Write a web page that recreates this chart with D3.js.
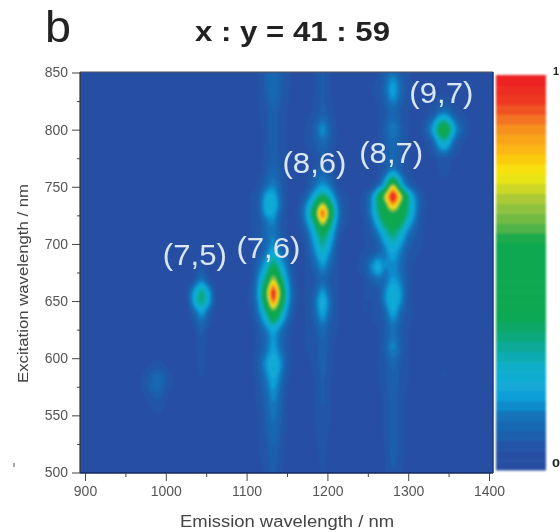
<!DOCTYPE html>
<html><head><meta charset="utf-8">
<script src="https://cdn.jsdelivr.net/npm/d3@7/dist/d3.min.js"></script>
<style>html,body{margin:0;padding:0;background:#fff}svg{display:block}text{font-family:"Liberation Sans",Arial,sans-serif}</style>
</head><body><svg id="c" width="560" height="532"></svg>
<script>
const emission=[894,960,975,990,1005,1025,1035,1044,1053,1063,1085,1105,1115,1125,1133,1141,1150,1160,1172,1184,1194,1204,1214,1226,1245,1255,1263,1271,1281,1291,1301,1315,1330,1344,1358,1375,1405];
const excitation=[855,835,815,800,790,775,765,757,750,742,734,727,720,710,695,680,668,658,650,640,625,610,595,580,565,545,520,494];
const intensity=[
[3,3,3,3,3, 3,3,3,3,3, 4,4,5, 9,13,9,6, 4,4,5,8,5,4,4,4,4,5, 7,11,7,5, 4,4,4,4,4,3],
[3,3,3,3,3, 3,3,3,3,3, 4,4,5, 9,12,9,6, 4,4,5,8,5,4,4,4,5,6, 11,20,11,6, 4,4,4,4,4,3],
[3,3,3,3,3, 3,3,3,3,3, 4,4,5, 7,10,7,5, 4,4,6,9,6,4,4,4,4,5, 7,11,7,5, 4,7,14,7,4,3],
[3,3,3,3,3, 3,3,3,3,3, 4,4,4, 7,9,7,5, 4,5,9,17,9,4,4,4,4,5, 9,15,9,5, 5,18,48,18,5,3],
[3,3,3,3,3, 3,3,3,3,3, 4,4,4, 7,9,7,5, 4,5,8,12,8,4,4,4,4,5, 8,12,8,5, 4,10,29,10,4,3],
[3,3,3,3,3, 3,3,3,3,3, 4,4,4, 7,9,7,5, 4,4,5,8,5,4,4,4,4,5, 8,11,8,5, 4,5,8,5,4,3],
[3,3,3,3,3, 3,3,3,3,3, 4,4,4, 8,11,8,5, 4,4,6,11,6,4,4,4,4,5, 8,15,9,5, 4,4,6,4,4,3],
[3,3,3,3,3, 3,3,3,3,3, 4,4,5, 10,13,9,5, 4,4,10,14,10,4,4,4,4,7, 16,38,17,7, 4,4,5,4,4,3],
[3,3,3,3,3, 3,3,3,3,3, 4,4,6, 13,16,10,5, 4,5,13,20,14,5,4,4,6,14, 28,76,30,12, 5,4,5,4,4,3],
[3,3,3,3,3, 3,3,3,3,3, 4,5,8, 20,21,12,5, 4,8,22,38,23,9,5,6,15,38, 67,100,69,28, 8,4,5,4,4,3],
[3,3,3,3,3, 3,3,3,3,3, 4,5,9, 23,24,13,5, 4,13,36,72,38,12,5,6,17,36, 54,84,56,30, 9,4,5,4,4,3],
[3,3,3,3,3, 3,3,3,3,3, 4,5,8, 20,20,11,5, 5,15,47,92,47,14,5,6,16,33, 46,58,47,28, 8,4,5,4,4,3],
[3,3,3,3,3, 3,3,3,3,3, 4,5,7, 14,16,9,5, 4,13,36,76,38,12,5,5,12,26, 40,46,40,22, 7,4,5,4,4,3],
[3,3,3,3,3, 3,3,3,3,3, 4,5,7, 12,15,9,5, 4,8,24,42,25,8,4,5,8,15, 26,36,26,13, 6,4,5,4,4,3],
[3,3,3,3,3, 3,3,4,3,3, 4,4,7, 13,20,13,7, 4,5,16,28,16,5,4,5,6,9, 15,22,15,8, 5,4,5,4,4,3],
[3,3,3,3,3, 3,3,7,3,3, 4,4,12, 24,42,26,13, 5,5,10,17,10,5,4,7,16,22, 15,17,12,6, 4,4,5,4,4,3],
[3,3,3,3,3, 3,7,15,7,3, 4,5,17, 40,74,44,19, 6,5,7,12,7,5,4,5,9,12, 12,19,14,6, 4,4,5,4,4,3],
[3,3,3,3,3, 4,19,32,19,4, 4,6,20, 60,98,63,24, 7,5,9,18,9,5,4,5,6,7, 15,25,17,6, 4,4,5,4,4,3],
[3,3,3,3,3, 4,20,34,20,4, 4,6,18, 52,91,56,22, 7,5,11,23,11,5,4,5,5,7, 15,25,16,6, 4,4,5,4,4,3],
[3,3,3,3,3, 3,10,19,10,3, 4,5,14, 33,56,36,16, 5,5,10,20,10,5,4,5,5,6, 10,20,11,6, 4,4,5,4,4,3],
[3,3,3,3,3, 3,5,9,5,3, 4,4,8, 15,22,15,8, 4,5,7,12,7,5,4,4,5,5, 8,13,8,5, 4,4,5,4,4,3],
[3,3,3,3,3, 3,4,7,4,3, 4,4,7, 13,19,13,7, 4,5,6,10,6,4,4,4,5,5, 9,16,9,5, 4,4,5,4,4,3],
[3,3,4,6,4, 3,4,6,4,3, 4,4,9, 18,24,18,8, 4,4,6,9,6,4,4,4,4,5, 7,11,7,5, 4,4,5,4,4,3],
[3,3,7,12,6, 3,3,5,3,3, 4,4,7, 14,20,14,6, 4,4,5,8,5,4,4,4,4,5, 7,10,7,5, 4,4,5,4,4,3],
[3,3,5,8,4, 3,3,5,3,3, 4,4,6, 11,16,11,5, 4,4,5,8,5,4,4,4,4,4, 6,9,6,4, 4,4,4,4,4,3],
[3,3,3,4,3, 3,3,4,3,3, 3,4,5, 9,13,9,5, 4,4,5,7,5,4,4,4,4,4, 6,9,6,4, 4,4,4,4,4,3],
[3,3,3,3,3, 3,3,4,3,3, 3,4,5, 7,10,7,4, 4,4,4,6,4,4,4,4,4,4, 5,9,6,4, 4,4,4,4,4,3],
[3,3,3,3,3, 3,3,4,3,3, 3,4,4, 6,8,6,4, 4,4,4,5,4,4,4,4,4,4, 5,7,5,4, 4,4,4,4,4,3]
];
const colorStops=[0,5,10,15,16.5,20,26,30,35,40,58,62,68,72,75,80,87,93,100];
const colorValues=["#2a4ea3","#2351a3","#1c62ae","#0f78bd","#0a8fcd","#12a8dc","#10aec8","#12aaa8","#0ea870","#0ca84f","#0ca84f","#5fb545","#a2c63a","#d7dc20","#f5ea0e","#fdc010","#f58a1f","#ee3c24","#ed1c24"];
const xTicks=[900,1000,1100,1200,1300,1400];
const xMinor=[950,1050,1150,1250,1350];
const yTicks=[500,550,600,650,700,750,800,850];
const yMinor=[525,575,625,675,725,775,825];
const speciesLabels=["(7,5)","(7,6)","(8,6)","(8,7)","(9,7)"];
const labelEmission=[1036,1127,1184,1279,1341];
const labelExcitation=[681.5,688,762,771,823];
const levels=d3.range(0,100,2.5);

const L=80,R=493,T=72,B=473;
const x=d3.scaleLinear().domain([900,1400]).range([85,489]);
const y=d3.scaleLinear().domain([500,850]).range([472.5,72.5]);
const color=d3.scaleLinear().domain(colorStops).range(colorValues).clamp(true);
const svg=d3.select("#c");
const defs=svg.append("defs");
defs.append("clipPath").attr("id","pc").append("rect").attr("x",L).attr("y",T).attr("width",R-L).attr("height",B-T);
defs.append("filter").attr("id","soft").attr("x","-5%").attr("y","-5%").attr("width","110%").attr("height","110%").append("feGaussianBlur").attr("stdDeviation",0.8);
defs.append("filter").attr("id","barsoft").attr("x","-5%").attr("y","-2%").attr("width","110%").attr("height","104%").append("feGaussianBlur").attr("stdDeviation",0.9);
defs.append("filter").attr("id","tsoft").attr("x","-10%").attr("y","-30%").attr("width","120%").attr("height","160%").append("feGaussianBlur").attr("stdDeviation",0.5);

// resample the read matrix onto the pixel grid
const ix=d3.scaleLinear().domain(emission).range(d3.range(emission.length)).clamp(true);
const iy=d3.scaleLinear().domain(excitation).range(d3.range(excitation.length)).clamp(true);
const W=R-L,H=B-T;
function cr(a,b,c,d,t){return 0.5*(2*b+(c-a)*t+(2*a-5*b+4*c-d)*t*t+(3*b-a-3*c+d)*t*t*t);}
function at(r,c){r=Math.max(0,Math.min(excitation.length-1,r));c=Math.max(0,Math.min(emission.length-1,c));return intensity[r][c];}
const grid=new Float64Array(W*H);
for(let j=0;j<H;j++){const fy=iy(y.invert(T+j+.5)),r0=Math.floor(fy),ty=fy-r0;
 for(let i=0;i<W;i++){const fx=ix(x.invert(L+i+.5)),c0=Math.floor(fx),tx=fx-c0;
  const v=[-1,0,1,2].map(dr=>cr(at(r0+dr,c0-1),at(r0+dr,c0),at(r0+dr,c0+1),at(r0+dr,c0+2),tx));
  grid[j*W+i]=Math.max(0,cr(v[0],v[1],v[2],v[3],ty));
 }}
const field={data:grid,width:W,height:H};
d3.blur2(field,1);
const contours=d3.contours().size([W,H]).thresholds(levels)(Array.from(field.data));
const plot=svg.append("g").attr("clip-path","url(#pc)");
plot.append("rect").attr("x",L).attr("y",T).attr("width",W).attr("height",H).attr("fill",color(2));
plot.append("g").attr("transform",`translate(${L},${T})`).attr("filter","url(#soft)")
 .selectAll("path").data(contours).join("path")
 .attr("d",d3.geoPath()).attr("fill",d=>color(d.value+1.25));

// colour bar
const legend=d3.scaleLinear().domain([0,100]).range([470,75]);
const bar=svg.append("g").attr("filter","url(#barsoft)");
bar.selectAll("rect").data(levels).join("rect")
 .attr("x",496).attr("width",50)
 .attr("y",d=>legend(d+2.5)).attr("height",d=>legend(d)-legend(d+2.5)+.5)
 .attr("fill",d=>color(d+1.25));

// frame
svg.append("line").attr("x1",L).attr("x2",R).attr("y1",T).attr("y2",T).attr("stroke","#555").attr("stroke-width",1);
svg.append("line").attr("x1",L).attr("x2",R).attr("y1",B).attr("y2",B).attr("stroke","#14295f").attr("stroke-width",1.5);
svg.append("line").attr("x1",R).attr("x2",R).attr("y1",T).attr("y2",B).attr("stroke","#1d3a78").attr("stroke-width",1.5);

// axes
function style(g){g.selectAll(".tick line").attr("stroke","#444");g.selectAll(".tick text").attr("fill","#555").attr("font-size",14).attr("font-family",'"Liberation Sans",Arial,sans-serif');}
const gx=svg.append("g").attr("transform",`translate(0,${B})`).attr("filter","url(#tsoft)");
gx.append("g").call(d3.axisBottom(x).tickValues(xTicks).tickFormat(d3.format("d")).tickSize(8).tickSizeOuter(0)).call(style).call(g=>g.select(".domain").remove());
gx.append("g").call(d3.axisBottom(x).tickValues(xMinor).tickFormat("").tickSize(4)).call(style).call(g=>g.select(".domain").remove());
gx.selectAll(".tick text").attr("y",13);
const gy=svg.append("g").attr("transform",`translate(${L},0)`).attr("filter","url(#tsoft)");
gy.append("g").call(d3.axisLeft(y).tickValues(yTicks).tickFormat(d3.format("d")).tickSize(8).tickSizeOuter(0)).call(style).call(g=>g.select(".domain").remove());
gy.append("g").call(d3.axisLeft(y).tickValues(yMinor).tickFormat("").tickSize(3)).call(style).call(g=>g.select(".domain").remove());
gy.selectAll(".tick text").attr("x",-12);
svg.append("line").attr("x1",L).attr("x2",L).attr("y1",T).attr("y2",B).attr("stroke","#333").attr("stroke-width",1.2);

// text
const txt=svg.append("g").attr("filter","url(#tsoft)");
function put(s,px,py,size,len,fill,weight,anchor){return txt.append("text").text(s).attr("x",px).attr("y",py).attr("font-size",size).attr("fill",fill).attr("font-weight",weight||"normal").attr("text-anchor",anchor||"start").attr("textLength",len).attr("lengthAdjust","spacingAndGlyphs");}
put("b",45,42,44,26,"#222");
put("x : y = 41 : 59",195,41,28,195,"#222","bold");
put("Emission wavelength / nm",180,527,16,214,"#444");
put("Excitation wavelength / nm",0,0,14,199,"#444").attr("transform","translate(28,383) rotate(-90)");
put("1",553,75,11,6,"#222","bold");
put("0",552,467,11,8,"#222","bold");
speciesLabels.forEach((s,i)=>{
 put(s,x(labelEmission[i]),y(labelExcitation[i]),29,64,"#d9e6f4",null,"middle");
});
svg.append("line").attr("x1",14).attr("x2",14).attr("y1",463).attr("y2",467).attr("stroke","#555");
</script></body></html>
